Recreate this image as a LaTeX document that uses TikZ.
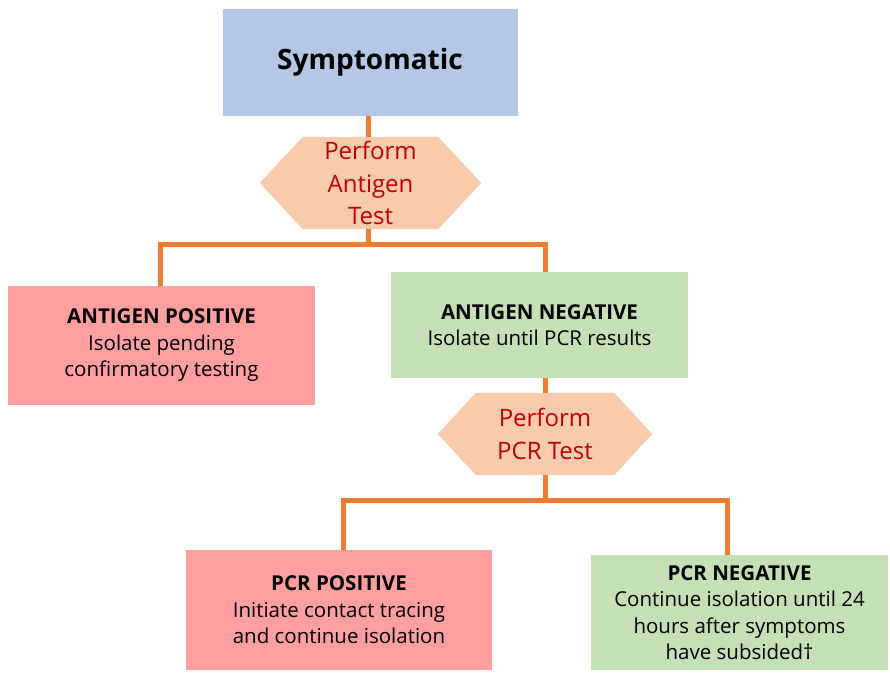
\documentclass[tikz,border=0pt]{standalone}
\usepackage{fontspec}
\setmainfont{Open Sans}
\usetikzlibrary{backgrounds}
\definecolor{symblue}{HTML}{B4C7E7}
\definecolor{peach}{HTML}{F8CBAD}
\definecolor{darkred}{HTML}{C00000}
\definecolor{pinkbox}{HTML}{FF9F9F}
\definecolor{greenbox}{HTML}{C5E0B4}
\definecolor{lineorange}{HTML}{ED7D31}
\tikzset{
  box/.style={inner sep=0pt, align=center, text=black, font=\fontsize{20.5}{26.5}\selectfont},
  posbox/.style={box, fill=pinkbox},
  negbox/.style={box, fill=greenbox},
  hexnode/.style={inner sep=0pt, align=center, text=darkred, font=\fontsize{24}{32.5}\selectfont},
  conn/.style={draw=lineorange, line width=5pt},
}
\newcommand{\hexfill}[2]{%
  \fill[peach] (#1.west) -- ([xshift=#2]#1.north west) -- ([xshift=-#2]#1.north east)
    -- (#1.east) -- ([xshift=-#2]#1.south east) -- ([xshift=#2]#1.south west) -- cycle;}
\begin{document}
\begin{tikzpicture}[x=1pt,y=-1pt]
\useasboundingbox (0,0) rectangle (890,677);
\node[box, fill=symblue, minimum width=295pt, minimum height=106pt, font=\fontsize{28}{30}\selectfont\bfseries] (sym) at (370,62.5) {Symptomatic};
\node[hexnode, minimum width=221pt, minimum height=92pt] (h1) at (370.5,183) {Perform\\Antigen\\Test};
\node[posbox, minimum width=307pt, minimum height=119pt] (apos) at (161.5,345.5) {\textbf{ANTIGEN POSITIVE}\\Isolate pending\\confirmatory testing};
\node[negbox, minimum width=297pt, minimum height=106pt] (aneg) at (539.5,325) {\textbf{ANTIGEN NEGATIVE}\\Isolate until PCR results};
\node[hexnode, minimum width=214pt, minimum height=82pt] (h2) at (545,434) {Perform\\PCR Test};
\node[posbox, minimum width=306pt, minimum height=120pt] (ppos) at (339,610) {\textbf{PCR POSITIVE}\\Initiate contact tracing\\and continue isolation};
\node[negbox, minimum width=297pt, minimum height=115pt] (pneg) at (739.5,612.5) {\textbf{PCR NEGATIVE}\\Continue isolation until 24\\hours after symptoms\\have subsided†};
\coordinate (j1) at (368,244);
\coordinate (j2) at (545,500);
\begin{scope}[on background layer]
  \hexfill{h1}{43pt}
  \hexfill{h2}{38pt}
  \draw[conn] (sym.south -| j1) -- (h1.north -| j1);
  \draw[conn] (h1.south -| j1) -- (j1);
  \draw[conn, line cap=rect] ([xshift=-1.5pt]apos.north) |- (j1) -| (h2.north |- aneg.north);
  \draw[conn] (aneg.south -| h2.north) -- (h2.north);
  \draw[conn] (h2.south) -- (j2);
  \draw[conn, line cap=rect] ([xshift=4pt]ppos.north) |- (j2) -| ([xshift=-12.5pt]pneg.north);
\end{scope}
\end{tikzpicture}
\end{document}
